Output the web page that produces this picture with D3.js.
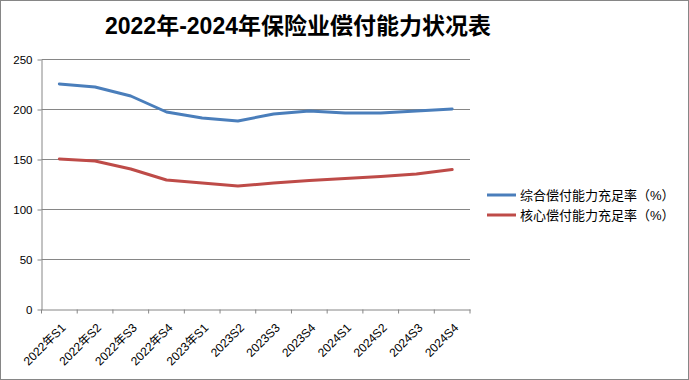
<!DOCTYPE html>
<html><head><meta charset="utf-8">
<script src="https://cdn.jsdelivr.net/npm/d3@7"></script>
<style>body{margin:0;background:#fff}svg{display:block}</style>
</head><body><svg id="c" width="689" height="380"></svg>
<script>
const categories = ["2022年S1","2022年S2","2022年S3","2022年S4","2023年S1","2023S2","2023S3","2023S4","2024S1","2024S2","2024S3","2024S4"];
const comprehensive = [225,222,213,197,191,188,195,198,196,196,198,200];
const core = [150,148,140,129,126,123,126,128.5,130.5,132.5,135,139.5];
const seriesNames = ["综合偿付能力充足率（%）","核心偿付能力充足率（%）"];
const yTicks = [0,50,100,150,200,250];
const title = "2022年-2024年保险业偿付能力状况表";

const svg = d3.select("#c");
const font = "'Liberation Sans','Noto Sans CJK SC',sans-serif";
svg.append("rect").attr("x",0.5).attr("y",0.5).attr("width",688).attr("height",379)
  .attr("fill","#fff").attr("stroke","#868686");

const x = d3.scaleBand().domain(categories).range([41.5,470]);
const y = d3.scaleLinear().domain([0,250]).range([309,59]);

// gridlines
svg.append("g").selectAll("line").data(yTicks.filter(d=>d>0)).join("line")
  .attr("x1",41.5).attr("x2",470).attr("y1",d=>Math.round(y(d))+0.5).attr("y2",d=>Math.round(y(d))+0.5)
  .attr("stroke","#868686");

// y axis
const ya = svg.append("g").attr("transform","translate(41.5,0.5)")
  .call(d3.axisLeft(y).tickValues(yTicks).tickSize(4).tickSizeOuter(0));
ya.select(".domain").attr("stroke","#868686");
ya.selectAll(".tick line").attr("stroke","#868686");
ya.selectAll(".tick text").attr("font-family",font).attr("font-size",11.5).attr("fill","#000").attr("x",-9);

// x axis
const xa = svg.append("g").attr("transform","translate(0,309.5)")
  .call(d3.axisBottom(x).tickSize(4).tickSizeOuter(0));
xa.select(".domain").attr("stroke","#868686");
xa.selectAll(".tick line").attr("stroke","#868686").attr("transform",`translate(${-x.bandwidth()/2},0)`);
svg.append("line").attr("x1",470).attr("x2",470).attr("y1",309.5).attr("y2",313.5).attr("stroke","#868686");
xa.selectAll(".tick text").attr("font-family",font).attr("font-size",12).attr("fill","#000")
  .attr("text-anchor","end").attr("dy",0).attr("y",0)
  .attr("transform","translate(7,19) rotate(-45)");

const line = d3.line().x((d,i)=>x(categories[i])+x.bandwidth()/2).y(d=>y(d));
const colors = ["#4a7ebb","#be4b48"];
[comprehensive, core].forEach((s,k)=>{
  svg.append("path").attr("d",line(s)).attr("fill","none").attr("stroke",colors[k])
    .attr("stroke-width",3).attr("stroke-linejoin","round").attr("stroke-linecap","round");
});

// legend
seriesNames.forEach((n,k)=>{
  const ly = 195 + k*20;
  svg.append("line").attr("x1",487).attr("x2",516).attr("y1",ly).attr("y2",ly)
    .attr("stroke",colors[k]).attr("stroke-width",3);
  svg.append("text").attr("x",520).attr("y",ly+4.5).attr("font-family",font).attr("font-size",13)
    .attr("fill","#000").text(n);
});

svg.append("text").attr("x",298).attr("y",34).attr("text-anchor","middle")
  .attr("font-family",font).attr("font-size",23).attr("font-weight","bold").attr("fill","#000").text(title);
</script></body></html>
